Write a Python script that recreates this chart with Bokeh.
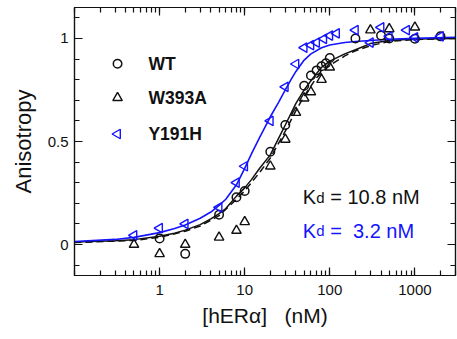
from bokeh.plotting import figure
from bokeh.models import (LinearAxis, LogAxis, FixedTicker, NumeralTickFormatter,
                          CustomJSTickFormatter, Range1d, Label, LogScale, LinearScale)
from bokeh.embed import file_html
from bokeh.resources import INLINE
import math

# ---------------- data ----------------
wt_x = [1, 2, 5, 8, 10, 20, 30, 50, 60, 70, 80, 90, 100, 200, 400, 500, 1000, 2000]
wt_y = [0.03, -0.045, 0.145, 0.23, 0.26, 0.45, 0.58, 0.77, 0.82, 0.845, 0.865, 0.88, 0.905,
        1.0, 1.014, 1.0, 0.998, 1.01]

w393a_x = [0.5, 1, 2, 5, 8, 10, 20, 30, 40, 50, 60, 80, 100, 300, 500, 1000]
w393a_y = [0.0, -0.045, 0.0, 0.035, 0.068, 0.11, 0.38, 0.51, 0.64, 0.71, 0.74, 0.80, 0.86,
           1.04, 1.046, 1.054]

y191h_x = [0.5, 1, 2, 5, 8, 10, 20, 30, 40, 50, 60, 70, 85, 100, 120, 200, 300, 400, 500, 800, 1000, 2000]
y191h_y = [0.045, 0.08, 0.10, 0.18, 0.30, 0.38, 0.60, 0.765, 0.876, 0.955, 0.968, 0.98, 0.998,
           1.014, 1.025, 1.04, 0.98, 1.054, 1.01, 1.04, 1.005, 1.01]

# fitted curves
fit_wt_x = [0.1, 0.3, 0.5, 1, 1.5, 2, 3, 4, 5, 6, 8, 10, 12, 15, 20, 25, 30, 40, 50, 60, 80,
            100, 150, 200, 300, 500, 1000, 3000]
fit_wt_y = [0.012, 0.018, 0.024, 0.04, 0.055, 0.07, 0.097, 0.125, 0.15, 0.175, 0.235, 0.275,
            0.315, 0.37, 0.435, 0.515, 0.58, 0.685, 0.75, 0.795, 0.86, 0.89, 0.925, 0.945,
            0.975, 0.99, 0.997, 1.0]

fit_w393a_x = [0.1, 0.5, 1, 2, 3, 5, 8, 10, 15, 20, 30, 40, 50, 70, 100, 150, 200, 300, 500,
               1000, 3000]
fit_w393a_y = [0.01, 0.02, 0.035, 0.065, 0.09, 0.14, 0.22, 0.26, 0.35, 0.42, 0.55, 0.65, 0.72,
               0.81, 0.87, 0.915, 0.94, 0.965, 0.985, 0.995, 1.0]

fit_y191h_x = [0.1, 0.3, 0.5, 1, 1.5, 2, 3, 4, 5, 6, 8, 10, 12, 15, 20, 25, 30, 35, 40, 50, 60,
               80, 100, 150, 200, 300, 500, 1000, 3000]
fit_y191h_y = [0.015, 0.025, 0.035, 0.058, 0.078, 0.095, 0.128, 0.158, 0.19, 0.22, 0.29, 0.37,
               0.44, 0.52, 0.62, 0.69, 0.75, 0.80, 0.84, 0.895, 0.925, 0.955, 0.968, 0.98,
               0.985, 0.99, 0.996, 1.0, 1.006]

series_names = ["WT", "W393A", "Y191H"]
kd_texts = ["= 10.8 nM", "=\u00a0\u00a03.2 nM"]

x_major = [1, 10, 100, 1000]
x_minor = [m * 10 ** e for e in range(-1, 4) for m in range(1, 10) if m * 10 ** e <= 3000]
y_major = [0, 0.5, 1]
y_minor = [round(-0.1 + 0.1 * i, 2) for i in range(13)]

BLUE = "#1414ff"
BLACK = "#111111"
FONT = "Liberation Sans"

p = figure(width=457, height=339, x_axis_type=None, y_axis_type=None,
           x_range=Range1d(0.1, 3000), y_range=Range1d(-0.15, 1.15),
           output_backend="svg", toolbar_location=None,
           min_border_left=74, min_border_right=2, min_border_top=7, min_border_bottom=64)
p.x_scale = LogScale()
# fractional frame coordinates for the legend
p.extra_x_ranges = {"fx": Range1d(0, 1)}
p.extra_y_ranges = {"fy": Range1d(0, 1)}
p.extra_x_scales = {"fx": LinearScale()}
p.extra_y_scales = {"fy": LinearScale()}
p.xgrid.visible = False
p.ygrid.visible = False
p.outline_line_color = BLACK
p.outline_line_width = 1.2
p.background_fill_color = "white"
p.border_fill_color = "white"


def style_axis(ax, show_labels):
    ax.axis_line_color = BLACK
    ax.axis_line_width = 1.2
    ax.major_tick_line_color = BLACK
    ax.minor_tick_line_color = BLACK
    ax.major_tick_line_width = 1.2
    ax.minor_tick_line_width = 1.2
    ax.major_tick_in = 8
    ax.major_tick_out = 0
    ax.minor_tick_in = 5
    ax.minor_tick_out = 0
    ax.major_label_text_font = FONT
    ax.major_label_text_color = BLACK
    ax.axis_label_text_font = FONT
    ax.axis_label_text_font_style = "normal"
    ax.axis_label_text_color = BLACK
    if show_labels:
        ax.major_label_text_font_size = "15px"
        ax.axis_label_text_font_size = "21px"
    else:
        ax.major_label_standoff = 0


xt = FixedTicker(ticks=x_major, minor_ticks=x_minor)
yt = FixedTicker(ticks=y_major, minor_ticks=y_minor)
blank = CustomJSTickFormatter(code="return ''")

xb = LogAxis(ticker=xt, formatter=NumeralTickFormatter(format="0"),
             axis_label="[hERα]\u00a0\u00a0\u00a0(nM)")
style_axis(xb, True)
xb.major_label_standoff = 9
xb.axis_label_standoff = 6
p.add_layout(xb, "below")

xtop = LogAxis(ticker=xt, formatter=blank)
style_axis(xtop, False)
p.add_layout(xtop, "above")

yl = LinearAxis(ticker=yt, formatter=NumeralTickFormatter(format="0.[0]"),
                axis_label="Anisotropy")
style_axis(yl, True)
yl.major_label_standoff = 6
yl.axis_label_standoff = 9
yl.axis_label_text_font_size = "22px"
p.add_layout(yl, "left")

yr = LinearAxis(ticker=yt, formatter=blank)
style_axis(yr, False)
p.add_layout(yr, "right")

# fitted curves
p.line(fit_w393a_x, fit_w393a_y, line_color=BLACK, line_width=1.5, line_dash="7 4")
p.line(fit_wt_x, fit_wt_y, line_color=BLACK, line_width=1.5)
p.line(fit_y191h_x, fit_y191h_y, line_color=BLUE, line_width=1.6)

# data points
styles = [dict(marker="circle", size=8.5, angle=0, line_color=BLACK, line_width=1.5),
          dict(marker="triangle", size=9.5, angle=0, line_color=BLACK, line_width=1.4),
          dict(marker="triangle", size=9.5, angle=math.pi / 2, line_color=BLUE, line_width=1.4)]
for xs, ys, st in [(wt_x, wt_y, styles[0]), (w393a_x, w393a_y, styles[1]),
                   (y191h_x, y191h_y, styles[2])]:
    p.scatter(xs, ys, fill_color=None, **st)

# legend (drawn in frame-fraction coordinates)
legend_fx = [0.113, 0.113, 0.113]
legend_fy = [0.790, 0.663, 0.528]
label_fx = 0.194
for i, name in enumerate(series_names):
    p.scatter([legend_fx[i]], [legend_fy[i]], fill_color=None,
              x_range_name="fx", y_range_name="fy", **styles[i])
    p.add_layout(Label(x=label_fx, y=legend_fy[i], x_range_name="fx", y_range_name="fy",
                       text=name, text_font=FONT, text_font_style="bold",
                       text_font_size="17.5px", text_color=BLACK,
                       text_baseline="middle", text_align="left"))

# Kd annotations
kd_anchor_x = 48
for yv, col, txt in [(0.23, BLACK, kd_texts[0]), (0.068, BLUE, kd_texts[1])]:
    p.add_layout(Label(x=kd_anchor_x, y=yv, text="K", text_color=col, text_font=FONT,
                       text_font_size="20px", text_baseline="alphabetic", text_align="left"))
    p.add_layout(Label(x=kd_anchor_x, y=yv, x_offset=13.5, text="d", text_color=col,
                       text_font=FONT, text_font_size="15px", text_baseline="alphabetic",
                       text_align="left"))
    p.add_layout(Label(x=kd_anchor_x, y=yv, x_offset=27.5, text=txt, text_color=col,
                       text_font=FONT, text_font_size="20px", text_baseline="alphabetic",
                       text_align="left"))

open("out.html", "w").write(file_html(p, INLINE))
